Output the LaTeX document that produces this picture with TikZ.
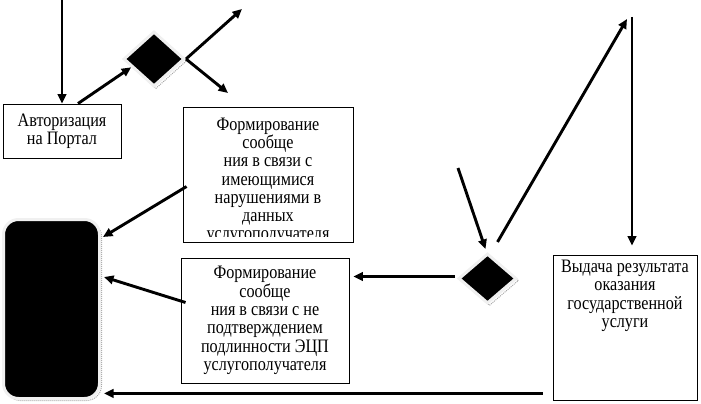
\documentclass[tikz,border=0pt]{standalone}
\usepackage{fontspec}
\newfontfamily\rf{Liberation Serif}[FakeStretch=0.85]
\usetikzlibrary{shapes.geometric,arrows.meta,calc}
\begin{document}
\begin{tikzpicture}[x=1pt,y=-1pt,
  txt/.style={font=\rf\fontsize{19}{18.3}\selectfont, align=center, inner sep=0pt},
  box/.style={draw=black, line width=0.9pt, fill=white, inner sep=0pt},
  dia/.style={diamond, fill=black, draw=gray!12, line width=3pt, inner sep=0pt},
  diash/.style={diamond, draw=gray!70, densely dotted, line width=1pt, inner sep=0pt},
  arr/.style={line width=2.9pt, -{Triangle[length=9.5pt,width=8.5pt]}},
  ln/.style={line width=2.9pt}]
\useasboundingbox (0,0) rectangle (701,404);

% black rounded box with border and shadow
\node[draw=gray!70, densely dotted, line width=1pt, rounded corners=15pt, minimum width=96pt, minimum height=179pt, inner sep=0pt] (blks) at (53.5,311) {};
\node[fill=black, draw=gray!12, line width=3pt, rounded corners=15pt, minimum width=96pt, minimum height=179pt, inner sep=0pt] (blk) at (51.5,309) {};

% diamonds
\node[diash, minimum width=61pt, minimum height=55pt] (d1s) at (156,61) {};
\node[dia, minimum width=61pt, minimum height=55pt] (d1) at (154,59) {};
\node[diash, minimum width=58pt, minimum height=50pt] (d2s) at (489.5,280.5) {};
\node[dia, minimum width=58pt, minimum height=50pt] (d2) at (487.5,278.5) {};

% boxes
\node[box, txt, minimum width=118pt, minimum height=54pt] (auth) at (62,131) {Авторизация\\на Портал};
\node[box, minimum width=170pt, minimum height=135pt] (form1) at (268,174.5) {};
\begin{scope}
\clip (183,107) rectangle (353,236);
\node[txt, anchor=north] (form1t) at (268,117.5) {Формирование\\сообще\\ния в связи с\\имеющимися\\нарушениями в\\данных\\услугополучателя};
\end{scope}
\node[box, txt, minimum width=168pt, minimum height=125pt] (form2) at (265,320.5) {Формирование\\сообще\\ния в связи с не\\подтверждением\\подлинности ЭЦП\\услугополучателя};
\node[box, minimum width=144pt, minimum height=145pt] (res) at (625,327.5) {};
\node[txt, anchor=north] (rest) at (625,260) {Выдача результата\\оказания\\государственной\\услуги};

% free ends
\coordinate (top1) at (62,0);
\coordinate (ur1) at (242,9);
\coordinate (dr1) at (228,93);
\coordinate (in2) at (458,168);
\coordinate (ur2) at (627,19);
\coordinate (top2) at (632,17);

% connectors
\draw[arr] (top1) -- (auth.north);
\draw[arr] ([xshift=16pt]auth.north) -- (d1.200);
\draw[arr] (d1.east) -- (ur1);
\draw[arr] (d1.east) -- (dr1);
\draw[arr] ($(form1.west)+(4,12)$) -- ($(blk.north east)+(2,19)$);
\draw[arr] ($(form2.west)+(5,-18)$) -- ($(blk.east)+(3,-32)$);
\draw[arr] ($(d2.west)+(-2,-2)$) -- ($(form2.east |- d2.west)+(4,-2)$);
\draw[arr] (in2) -- ($(d2.north)+(-2,-3)$);
\draw[arr] ($(d2.north)+(10,-10)$) -- (ur2);
\draw[arr] (top2) -- ($(res.north)+(7,-9)$);
\draw[arr] ($(res.south west)+(-10,-7)$) -- ($(blk.east |- res.south west)+(3,-7)$);
\end{tikzpicture}
\end{document}
